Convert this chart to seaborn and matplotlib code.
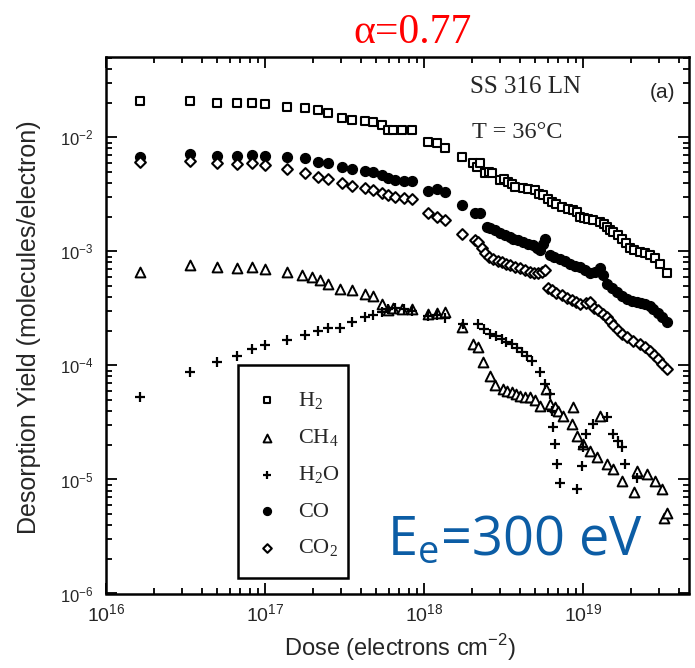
import numpy as np
import pandas as pd
import matplotlib
matplotlib.use("Agg")
import matplotlib.pyplot as plt
from matplotlib.patches import Rectangle
from matplotlib.ticker import LogLocator, NullFormatter
import seaborn as sns

# ---- desorption yields (molecules/electron) versus dose (electrons cm^-2) ----
h2_dose = [1.64e16, 3.37e16, 5.0e16, 6.64e16, 8.25e16, 1.0e17, 1.37e17, 1.79e17, 2.16e17, 2.5e17,
           3.03e17, 3.51e17, 4.26e17, 4.8e17, 5.42e17, 5.9e17, 6.4e17, 7.3e17, 8.4e17, 1.06e18,
           1.2e18, 1.36e18, 1.73e18, 2.04e18, 2.15e18, 2.25e18, 2.42e18, 2.55e18, 2.67e18, 3.0e18,
           3.2e18, 3.39e18, 3.55e18, 3.73e18, 4.2e18, 4.5e18, 4.99e18, 5.3e18, 5.63e18, 6.0e18,
           6.35e18, 6.8e18, 7.34e18, 8.0e18, 8.69e18, 9.1e18, 9.57e18, 1.02e19, 1.08e19, 1.15e19,
           1.28e19, 1.35e19, 1.41e19, 1.48e19, 1.55e19, 1.65e19, 1.75e19, 1.86e19, 1.98e19, 2.1e19,
           2.28e19, 2.45e19, 2.64e19, 2.85e19, 3.05e19, 3.36e19]
h2_yield = [2.1e-2, 2.1e-2, 2.01e-2, 2.01e-2, 2.01e-2, 1.96e-2, 1.84e-2, 1.8e-2, 1.74e-2, 1.65e-2,
            1.47e-2, 1.42e-2, 1.4e-2, 1.37e-2, 1.28e-2, 1.16e-2, 1.16e-2, 1.16e-2, 1.16e-2, 9.1e-3,
            8.9e-3, 8.0e-3, 6.76e-3, 5.9e-3, 5.5e-3, 5.9e-3, 4.83e-3, 5.0e-3, 4.83e-3, 4.2e-3,
            4.3e-3, 4.07e-3, 3.9e-3, 3.68e-3, 3.56e-3, 3.5e-3, 3.44e-3, 3.2e-3, 3.11e-3, 2.9e-3,
            2.72e-3, 2.6e-3, 2.46e-3, 2.35e-3, 2.3e-3, 2.2e-3, 2.0e-3, 1.97e-3, 1.94e-3, 1.9e-3,
            1.81e-3, 1.72e-3, 1.64e-3, 1.55e-3, 1.48e-3, 1.38e-3, 1.29e-3, 1.18e-3, 1.06e-3, 1.02e-3,
            9.9e-4, 9.6e-4, 9.2e-4, 8.7e-4, 7.8e-4, 6.4e-4]

ch4_dose = [1.64e16, 3.37e16, 5.0e16, 6.64e16, 8.25e16, 1.0e17, 1.37e17, 1.7e17, 1.97e17, 2.22e17,
            2.5e17, 2.97e17, 3.51e17, 4.26e17, 4.8e17, 5.42e17, 5.97e17, 6.4e17, 7.3e17, 8.4e17,
            1.06e18, 1.2e18, 1.36e18, 1.73e18, 2.04e18, 2.2e18, 2.36e18, 2.6e18, 2.8e18, 3.16e18,
            3.35e18, 3.56e18, 3.8e18, 4.02e18, 4.3e18, 4.65e18, 5.0e18, 5.37e18, 5.87e18, 6.2e18,
            6.67e18, 7.0e18, 7.52e18, 8.49e18, 8.69e18, 9.13e18, 1.0e19, 1.11e19, 1.22e19, 1.28e19,
            1.41e19, 1.55e19, 1.75e19, 2.08e19, 2.18e19, 2.53e19, 2.84e19, 3.13e19, 3.23e19, 3.36e19]
ch4_yield = [6.6e-4, 7.55e-4, 7.3e-4, 7.2e-4, 7.3e-4, 7.06e-4, 6.6e-4, 6.17e-4, 5.9e-4, 5.57e-4,
             5.2e-4, 4.7e-4, 4.55e-4, 4.26e-4, 4.03e-4, 3.48e-4, 3.03e-4, 3.2e-4, 3.1e-4, 3.1e-4,
             2.8e-4, 2.9e-4, 2.94e-4, 2.17e-4, 1.55e-4, 1.46e-4, 1.07e-4, 8.1e-5, 6.7e-5, 6.2e-5,
             6.0e-5, 5.8e-5, 5.6e-5, 5.4e-5, 5.3e-5, 5.25e-5, 5.0e-5, 4.4e-5, 6.2e-5, 4.6e-5,
             4.3e-5, 4.0e-5, 3.63e-5, 3.07e-5, 4.3e-5, 2.42e-5, 2.05e-5, 1.79e-5, 1.56e-5, 3.63e-5,
             1.36e-5, 1.23e-5, 9.7e-6, 7.7e-6, 1.19e-5, 1.11e-5, 9.7e-6, 8.2e-6, 4.6e-6, 5.1e-6]

h2o_dose = [1.64e16, 3.37e16, 4.97e16, 6.64e16, 8.25e16, 1.0e17, 1.37e17, 1.79e17, 2.16e17, 2.5e17,
            2.97e17, 3.51e17, 4.26e17, 4.8e17, 5.42e17, 5.9e17, 6.6e17, 7.5e17, 8.4e17, 1.06e18,
            1.2e18, 1.36e18, 1.77e18, 2.2e18, 2.4e18, 2.6e18, 2.85e18, 3.08e18, 3.3e18, 3.56e18,
            3.85e18, 4.13e18, 4.45e18, 4.79e18, 5.37e18, 5.77e18, 6.2e18, 6.35e18, 6.5e18, 6.67e18,
            6.83e18, 7.16e18, 9.13e18, 9.8e18, 1.0e19, 1.05e19, 1.16e19, 1.41e19, 1.55e19, 1.67e19,
            1.75e19, 1.83e19, 2.18e19]
h2o_yield = [5.3e-5, 8.7e-5, 1.07e-4, 1.22e-4, 1.4e-4, 1.5e-4, 1.68e-4, 1.83e-4, 2.0e-4, 2.14e-4,
             2.14e-4, 2.4e-4, 2.65e-4, 2.75e-4, 2.94e-4, 3.1e-4, 3.2e-4, 3.1e-4, 3.0e-4, 2.7e-4,
             2.75e-4, 2.6e-4, 2.32e-4, 2.32e-4, 2.1e-4, 1.9e-4, 1.8e-4, 1.71e-4, 1.62e-4, 1.55e-4,
             1.42e-4, 1.31e-4, 1.2e-4, 1.1e-4, 8.7e-5, 6.9e-5, 5.6e-5, 4.0e-5, 2.86e-5, 2.05e-5,
             1.36e-5, 9.4e-6, 8.2e-6, 1.32e-5, 1.91e-5, 2.51e-5, 3.07e-5, 3.5e-5, 2.5e-5, 2.19e-5,
             1.91e-5, 1.36e-5, 1.04e-5]

co_dose = [1.64e16, 3.37e16, 5.0e16, 6.64e16, 8.25e16, 1.0e17, 1.37e17, 1.79e17, 2.16e17, 2.5e17,
           3.03e17, 3.51e17, 4.26e17, 4.8e17, 5.42e17, 5.9e17, 6.6e17, 7.5e17, 8.4e17, 1.06e18,
           1.2e18, 1.36e18, 1.73e18, 2.09e18, 2.25e18, 2.48e18, 2.6e18, 2.8e18, 3.0e18, 3.23e18,
           3.45e18, 3.65e18, 3.9e18, 4.2e18, 4.5e18, 4.87e18, 5.1e18, 5.37e18, 5.6e18, 5.77e18,
           6.2e18, 6.6e18, 7.16e18, 7.7e18, 8.27e18, 8.9e18, 9.57e18, 1.03e19, 1.11e19, 1.19e19,
           1.28e19, 1.34e19, 1.41e19, 1.52e19, 1.63e19, 1.75e19, 1.88e19, 2.03e19, 2.18e19, 2.31e19,
           2.46e19, 2.62e19, 2.77e19, 2.95e19, 3.13e19, 3.36e19]
co_yield = [6.67e-3, 7.13e-3, 6.85e-3, 6.85e-3, 6.98e-3, 6.85e-3, 6.67e-3, 6.53e-3, 6.1e-3, 5.9e-3,
            5.45e-3, 5.23e-3, 5.09e-3, 4.99e-3, 4.67e-3, 4.4e-3, 4.2e-3, 4.1e-3, 4.1e-3, 3.4e-3,
            3.5e-3, 3.33e-3, 2.54e-3, 2.15e-3, 2.15e-3, 1.64e-3, 1.6e-3, 1.53e-3, 1.45e-3, 1.38e-3,
            1.33e-3, 1.29e-3, 1.25e-3, 1.21e-3, 1.17e-3, 1.13e-3, 1.08e-3, 1.02e-3, 1.15e-3, 1.29e-3,
            9.2e-4, 8.9e-4, 8.6e-4, 8.2e-4, 7.8e-4, 7.5e-4, 7.3e-4, 6.9e-4, 6.4e-4, 6.6e-4,
            7.1e-4, 6.2e-4, 5.2e-4, 4.8e-4, 4.4e-4, 4.1e-4, 3.84e-4, 3.7e-4, 3.59e-4, 3.52e-4,
            3.47e-4, 3.3e-4, 3.14e-4, 2.9e-4, 2.65e-4, 2.4e-4]

co2_dose = [1.64e16, 3.37e16, 5.0e16, 6.64e16, 8.25e16, 1.0e17, 1.37e17, 1.79e17, 2.16e17, 2.5e17,
            3.03e17, 3.51e17, 4.26e17, 4.8e17, 5.42e17, 5.9e17, 6.6e17, 7.5e17, 8.4e17, 1.06e18,
            1.2e18, 1.36e18, 1.73e18, 2.09e18, 2.2e18, 2.3e18, 2.42e18, 2.58e18, 2.73e18, 2.9e18,
            3.08e18, 3.28e18, 3.48e18, 3.75e18, 4.02e18, 4.32e18, 4.65e18, 4.95e18, 5.24e18, 5.5e18,
            5.77e18, 6.0e18, 6.35e18, 6.8e18, 7.34e18, 7.9e18, 8.49e18, 9.0e18, 9.57e18, 1.04e19,
            1.11e19, 1.18e19, 1.25e19, 1.33e19, 1.41e19, 1.48e19, 1.55e19, 1.65e19, 1.75e19, 1.88e19,
            2.05e19, 2.28e19, 2.45e19, 2.64e19, 2.8e19, 2.95e19, 3.15e19, 3.36e19]
co2_yield = [6.03e-3, 6.19e-3, 5.9e-3, 5.82e-3, 5.98e-3, 5.71e-3, 5.23e-3, 4.83e-3, 4.51e-3, 4.28e-3,
             3.99e-3, 3.73e-3, 3.56e-3, 3.44e-3, 3.22e-3, 3.1e-3, 3.0e-3, 2.95e-3, 2.9e-3, 2.16e-3,
             2.0e-3, 1.87e-3, 1.43e-3, 1.25e-3, 1.2e-3, 1.08e-3, 9.6e-4, 9.0e-4, 8.6e-4, 8.3e-4,
             8.1e-4, 7.8e-4, 7.6e-4, 7.3e-4, 7.1e-4, 6.8e-4, 6.6e-4, 6.5e-4, 6.4e-4, 6.6e-4,
             6.8e-4, 4.8e-4, 4.55e-4, 4.3e-4, 4.11e-4, 3.9e-4, 3.72e-4, 3.6e-4, 3.47e-4, 3.5e-4,
             3.59e-4, 3.2e-4, 3.03e-4, 2.85e-4, 2.65e-4, 2.45e-4, 2.24e-4, 2.05e-4, 1.9e-4, 1.77e-4,
             1.65e-4, 1.55e-4, 1.45e-4, 1.35e-4, 1.24e-4, 1.14e-4, 1.03e-4, 9.3e-5]

gas_labels = ["H$_\\mathregular{2}$", "CH$_\\mathregular{4}$", "H$_\\mathregular{2}$O",
              "CO", "CO$_\\mathregular{2}$"]

# long-form table for seaborn
frames = []
for lab, d, y in zip(gas_labels,
                     [h2_dose, ch4_dose, h2o_dose, co_dose, co2_dose],
                     [h2_yield, ch4_yield, h2o_yield, co_yield, co2_yield]):
    frames.append(pd.DataFrame({"dose": d, "yield": y, "gas": lab}))
df = pd.concat(frames, ignore_index=True)

# marker styles per gas
styles = {
    gas_labels[0]: dict(marker="s", s=30, facecolor="white", edgecolor="black", linewidth=1.5),
    gas_labels[1]: dict(marker="^", s=50, facecolor="white", edgecolor="black", linewidth=1.4),
    gas_labels[2]: dict(marker="+", s=58, color="black", linewidth=1.6),
    gas_labels[3]: dict(marker="o", s=50, facecolor="black", edgecolor="black", linewidth=1.0),
    gas_labels[4]: dict(marker="D", s=30, facecolor="white", edgecolor="black", linewidth=1.5),
}

sns.set_style("ticks")
plt.rcParams["font.family"] = ["Liberation Sans", "DejaVu Sans"]

W, H = 695, 668
fig = plt.figure(figsize=(W / 100, H / 100), dpi=100)
ax = fig.add_axes([106 / W, 1 - 593.5 / H, (689 - 106) / W, (593.5 - 57) / H])

for lab in gas_labels:
    sub = df[df["gas"] == lab]
    sns.scatterplot(data=sub, x="dose", y="yield", ax=ax, label=lab, zorder=3, **styles[lab])

ax.set_xscale("log")
ax.set_yscale("log")
ax.set_xlim(1e16, 4.64e19)
ax.set_ylim(1e-6, 5.06e-2)
ax.xaxis.set_major_locator(LogLocator(base=10, numticks=10))
ax.yaxis.set_major_locator(LogLocator(base=10, numticks=10))
ax.xaxis.set_minor_locator(LogLocator(base=10, subs=np.arange(2, 10), numticks=20))
ax.yaxis.set_minor_locator(LogLocator(base=10, subs=np.arange(2, 10), numticks=20))
ax.xaxis.set_minor_formatter(NullFormatter())
ax.yaxis.set_minor_formatter(NullFormatter())

ax.tick_params(which="both", direction="in", top=True, right=True, color="black", width=1.3)
ax.tick_params(which="major", length=8)
ax.tick_params(which="minor", length=4)
ax.tick_params(axis="x", which="major", labelsize=14, pad=7)
ax.tick_params(axis="y", which="major", labelsize=12, pad=9)
for sp in ax.spines.values():
    sp.set_linewidth(1.8)
    sp.set_color("black")

ax.set_xlabel("Dose (electrons cm$^{\\mathregular{-2}}$)", fontsize=17)
ax.xaxis.set_label_coords((400 - 106) / 583, (593.5 - 648) / 536.5)
ax.xaxis.label.set_va("center")
ax.set_ylabel("Desorption Yield (molecules/electron)", fontsize=18)
ax.yaxis.set_label_coords((29 - 106) / 583, (593.5 - 327) / 536.5)
ax.yaxis.label.set_va("center")

# legend with a plain rectangular frame
leg = ax.legend(loc="center", bbox_to_anchor=(0.329, 0.2212), frameon=False,
                prop={"family": "Liberation Serif", "size": 16},
                handlelength=1.0, handletextpad=0.9, labelspacing=0.70,
                markerscale=0.8, borderaxespad=0)
ax.add_patch(Rectangle((0.2259, 0.0295), 0.1897, 0.3965, transform=ax.transAxes,
                       fill=False, edgecolor="black", linewidth=1.8, zorder=4))

# annotations
serif = ["Liberation Serif", "DejaVu Serif"]
fig.text(470 / W, 1 - 93 / H, "SS 316 LN", family=serif, fontsize=18, ha="left", va="baseline")
fig.text(472 / W, 1 - 138 / H, "T = 36°C", family=serif, fontsize=17.5, ha="left", va="baseline")
fig.text(650 / W, 1 - 93 / H, "(a)", fontsize=15, ha="left", va="center")
fig.text(413 / W, 1 - 33 / H, "α=0.77", family=serif, fontsize=30, color="#ff0000",
         ha="center", va="center")
fig.text(387 / W, 1 - 555 / H, "E$_\\mathregular{e}$=300 eV", family=["Open Sans", "DejaVu Sans"],
         fontsize=39, color="#0c5da5", ha="left", va="baseline")

fig.savefig("out.png", dpi=100)
